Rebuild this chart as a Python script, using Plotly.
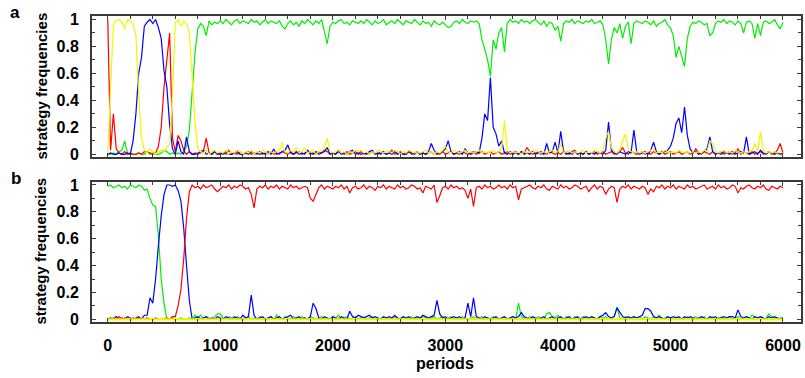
import plotly.graph_objects as go

# sample periods (every 25 periods, 0..6000)
periods = list(range(0, 6001, 25))

# ---------------- panel a ----------------
a_green = [
    0, 0, 0.01, 0, 0.02, 0.03, 0.1, 0.01, 0, 0,
    0, 0.01, 0, 0, 0.02, 0, 0.01, 0, 0, 0.01,
    0.03, 0.02, 0, 0.01, 0, 0.01, 0, 0.02, 0.06, 0.18,
    0.45, 0.75, 0.93, 0.97, 0.95, 0.88, 0.99, 0.96, 0.98, 0.97,
    0.99, 0.97, 1.0, 0.98, 0.96, 0.99, 1.0, 0.97, 0.99, 0.98,
    0.97, 1.0, 0.98, 0.99, 0.96, 0.98, 1.0, 0.97, 0.99, 0.98,
    0.97, 0.99, 0.95, 0.93, 0.97, 0.99, 0.96, 0.98, 0.95, 0.99,
    0.97, 1.0, 0.98, 0.96, 0.99, 0.97, 1.0, 0.92, 0.82, 0.95,
    0.98, 0.97, 0.99, 1.0, 0.97, 0.98, 0.96, 0.99, 0.98, 0.97,
    0.99, 0.97, 1.0, 0.98, 0.96, 0.99, 0.97, 0.98, 1.0, 0.96,
    0.98, 0.99, 0.97, 1.0, 0.98, 0.96, 0.99, 0.98, 0.97, 1.0,
    0.98, 0.96, 0.99, 0.97, 0.98, 0.95, 0.99, 0.97, 0.96, 0.98,
    0.96, 0.94, 0.95, 0.98, 0.99, 0.97, 1.0, 0.98, 0.97, 0.99,
    0.98, 0.99, 0.97, 0.85, 0.78, 0.7, 0.58, 0.85, 0.78, 0.9,
    0.94, 0.76, 0.97, 1.0, 0.98, 0.99, 0.97, 1.0, 0.98, 0.99,
    0.97, 0.99, 1.0, 0.98, 0.96, 0.99, 0.95, 0.98, 0.97, 0.92,
    0.95, 0.84, 0.97, 0.99, 0.98, 1.0, 0.97, 0.99, 0.98, 0.97,
    0.99, 0.98, 1.0, 0.97, 0.98, 0.99, 0.96, 0.85, 0.67, 0.85,
    0.94, 0.9, 0.97, 0.86, 0.95, 0.98, 0.82, 0.97, 0.99, 0.98,
    0.97, 0.99, 0.98, 0.96, 0.99, 0.95, 0.97, 0.98, 1.0, 0.96,
    0.94, 0.88, 0.72, 0.8, 0.72, 0.65, 0.86, 0.95, 0.98, 0.97,
    0.99, 0.98, 0.96, 0.97, 0.88, 0.9, 0.97, 0.99, 0.98, 1.0,
    0.97, 0.99, 0.98, 0.96, 0.99, 0.97, 0.9, 0.98, 0.99, 0.97,
    0.86, 0.97, 0.88, 0.98, 0.99, 0.97, 0.98, 1.0, 0.96, 0.93,
    0.98,
]

a_blue = [
    0, 0.01, 0, 0, 0.01, 0, 0, 0.01, 0, 0.1,
    0.3, 0.6, 0.72, 0.95, 0.98, 1.0, 0.97, 1.0, 0.94, 0.86,
    0.62, 0.5, 0.22, 0.04, 0.0, 0.1, 0.02, 0.0, 0.13, 0.02,
    0, 0, 0.01, 0.02, 0.03, 0, 0.01, 0, 0.02, 0,
    0.01, 0, 0.02, 0, 0, 0.01, 0.02, 0, 0, 0.01,
    0, 0.02, 0, 0.01, 0, 0.01, 0, 0.02, 0, 0.04,
    0, 0.01, 0.02, 0.03, 0.07, 0.01, 0, 0.02, 0, 0.01,
    0, 0.03, 0.01, 0, 0.02, 0, 0.01, 0.02, 0.05, 0,
    0.01, 0, 0.02, 0, 0.01, 0, 0.02, 0.03, 0, 0.01,
    0, 0.01, 0, 0.02, 0.03, 0, 0.01, 0, 0.02, 0,
    0.01, 0, 0.02, 0, 0.01, 0, 0, 0.02, 0.01, 0,
    0.02, 0, 0.01, 0, 0.02, 0.08, 0.03, 0, 0.01, 0.02,
    0.04, 0.1, 0.02, 0, 0.01, 0.02, 0, 0.04, 0.01, 0,
    0.01, 0.02, 0.01, 0.12, 0.3, 0.25, 0.57, 0.2, 0.15, 0.06,
    0.1, 0.01, 0, 0.02, 0, 0.01, 0, 0.02, 0, 0.01,
    0, 0.02, 0, 0.01, 0.02, 0, 0.08, 0.01, 0.02, 0.09,
    0.01, 0.17, 0.02, 0, 0.01, 0, 0.02, 0, 0.01, 0,
    0.02, 0, 0.01, 0, 0.02, 0.01, 0, 0.03, 0.24, 0.03,
    0.01, 0, 0.02, 0.01, 0, 0.02, 0.01, 0.18, 0.02, 0,
    0.01, 0.02, 0, 0.03, 0.09, 0.02, 0, 0.01, 0.02, 0.03,
    0.06, 0.12, 0.23, 0.27, 0.16, 0.35, 0.14, 0.04, 0.01, 0.02,
    0, 0.01, 0.02, 0.04, 0.13, 0.02, 0, 0.01, 0, 0.02,
    0.01, 0, 0.02, 0, 0.01, 0.02, 0.01, 0.13, 0, 0.01,
    0.02, 0, 0.03, 0.01, 0, 0.02, 0.01, 0, 0.01, 0,
    0.01,
]

a_red = [
    1.0, 0.03, 0.3, 0.04, 0.01, 0, 0.02, 0, 0.01, 0,
    0, 0.01, 0, 0.02, 0.02, 0.01, 0, 0.01, 0.06, 0.2,
    0.5, 0.7, 0.9, 0.12, 0.02, 0.14, 0.1, 0.03, 0, 0.02,
    0, 0.01, 0, 0.01, 0.02, 0.12, 0.01, 0, 0.02, 0,
    0, 0.01, 0, 0.03, 0, 0.01, 0, 0.02, 0, 0.01,
    0.02, 0, 0.01, 0, 0.02, 0, 0.01, 0, 0.02, 0,
    0.01, 0, 0.02, 0.01, 0, 0.02, 0, 0.01, 0.02, 0,
    0.01, 0.02, 0, 0.01, 0, 0.02, 0.01, 0.03, 0.02, 0,
    0.01, 0, 0.03, 0.01, 0, 0.02, 0, 0.01, 0.02, 0,
    0.02, 0, 0.01, 0, 0.02, 0.01, 0, 0.02, 0.01, 0,
    0.01, 0.03, 0, 0.01, 0.02, 0, 0.01, 0.02, 0, 0.01,
    0.02, 0, 0.01, 0, 0.01, 0.02, 0, 0.01, 0, 0.02,
    0, 0.01, 0.02, 0, 0.01, 0, 0.02, 0.01, 0, 0.01,
    0.02, 0, 0.01, 0.02, 0, 0.01, 0.02, 0, 0.01, 0.02,
    0, 0.01, 0.02, 0, 0.01, 0.02, 0, 0.02, 0.01, 0.05,
    0.02, 0, 0.01, 0.02, 0, 0.01, 0, 0.02, 0.01, 0,
    0.01, 0, 0.02, 0.01, 0, 0.02, 0.03, 0, 0.01, 0,
    0.02, 0, 0.01, 0.02, 0, 0.01, 0.02, 0, 0.01, 0.02,
    0, 0.01, 0.02, 0.05, 0.01, 0, 0.02, 0.01, 0, 0.01,
    0.02, 0, 0.01, 0, 0.02, 0.01, 0, 0.02, 0, 0.01,
    0.02, 0, 0.01, 0.02, 0, 0.01, 0.02, 0, 0.01, 0.04,
    0.01, 0, 0.02, 0.01, 0, 0.02, 0, 0.01, 0.02, 0,
    0.01, 0.02, 0, 0.01, 0.04, 0, 0.02, 0.01, 0, 0.02,
    0, 0.01, 0.02, 0, 0.01, 0.02, 0, 0.01, 0.03, 0.08,
    0.01,
]

a_yellow = [
    0, 0.5, 0.97, 0.99, 1.0, 0.98, 0.93, 1.0, 0.99, 0.97,
    0.88, 0.45, 0.12, 0.03, 0.01, 0.04, 0.02, 0, 0.02, 0.03,
    0.02, 0.05, 0.08, 0.45, 0.97, 1.0, 0.95, 0.99, 0.97, 0.9,
    0.55, 0.25, 0.04, 0.02, 0.01, 0.03, 0, 0.02, 0.03, 0.01,
    0.02, 0.01, 0.03, 0, 0.02, 0.01, 0.03, 0.02, 0, 0.02,
    0.01, 0.03, 0, 0.02, 0.01, 0.03, 0.02, 0, 0.02, 0.01,
    0.02, 0.03, 0.09, 0.02, 0.01, 0.03, 0.02, 0.05, 0.01, 0.02,
    0.05, 0.01, 0.02, 0.03, 0, 0.02, 0.03, 0.05, 0.12, 0.02,
    0.01, 0.02, 0.03, 0.01, 0.02, 0, 0.02, 0.01, 0.03, 0.02,
    0.03, 0.01, 0.02, 0, 0.02, 0.01, 0.03, 0.02, 0.01, 0.02,
    0.02, 0.01, 0.03, 0.02, 0, 0.02, 0.01, 0.03, 0.02, 0.01,
    0.02, 0.01, 0.02, 0.03, 0.01, 0.02, 0, 0.02, 0.01, 0.03,
    0.06, 0.02, 0.01, 0.03, 0.02, 0.01, 0.02, 0.03, 0.01, 0.02,
    0.01, 0.02, 0.03, 0.01, 0.02, 0.01, 0.02, 0.03, 0.01, 0.02,
    0.04, 0.25, 0.03, 0.01, 0.02, 0.01, 0.02, 0, 0.02, 0.01,
    0.02, 0.01, 0.03, 0.02, 0.01, 0.02, 0.01, 0.02, 0.03, 0.01,
    0.02, 0.08, 0.01, 0.02, 0.03, 0.01, 0.02, 0.01, 0.02, 0.03,
    0.01, 0.02, 0.01, 0.03, 0.02, 0.01, 0.03, 0.12, 0.17, 0.05,
    0.02, 0.01, 0.03, 0.1, 0.15, 0.04, 0.02, 0.01, 0.02, 0.01,
    0.02, 0.01, 0.02, 0.03, 0.04, 0.01, 0.02, 0.01, 0.03, 0.02,
    0.01, 0.02, 0.01, 0.03, 0.02, 0.01, 0.02, 0.01, 0.02, 0.01,
    0.02, 0.01, 0.03, 0.02, 0.1, 0.08, 0.02, 0.01, 0.02, 0.03,
    0.01, 0.02, 0.01, 0.03, 0.02, 0.01, 0.02, 0.01, 0.02, 0.03,
    0.08, 0.02, 0.17, 0.03, 0.01, 0.02, 0.01, 0.02, 0.01, 0.02,
    0.01,
]

# ---------------- panel b ----------------
b_green = [
    0.99, 1.0, 0.98, 0.99, 1.0, 0.98, 0.99, 0.97, 1.0, 0.99,
    0.98, 1.0, 0.99, 0.96, 0.97, 0.9, 0.85, 0.84, 0.62, 0.3,
    0.12, 0.0, 0, 0.01, 0, 0, 0.01, 0, 0, 0.01,
    0, 0.03, 0.01, 0.03, 0, 0.02, 0.01, 0, 0.02, 0.04,
    0.04, 0.01, 0, 0.02, 0.01, 0, 0.02, 0.01, 0, 0.01,
    0.02, 0, 0.01, 0, 0.02, 0.01, 0, 0.01, 0.02, 0,
    0.03, 0.01, 0, 0.02, 0.01, 0, 0.02, 0.01, 0, 0.02,
    0.01, 0, 0.02, 0.01, 0, 0.01, 0.02, 0, 0.01, 0,
    0.02, 0.01, 0.03, 0, 0.01, 0.02, 0, 0.01, 0.02, 0,
    0.01, 0.02, 0, 0.01, 0.02, 0, 0.01, 0, 0.02, 0.01,
    0, 0.01, 0.02, 0, 0.01, 0.02, 0, 0.01, 0.02, 0,
    0.01, 0, 0.02, 0.01, 0, 0.01, 0.02, 0, 0.01, 0.02,
    0, 0.01, 0.02, 0, 0.01, 0, 0.02, 0.01, 0, 0.01,
    0.02, 0, 0.01, 0.02, 0, 0.01, 0, 0.02, 0.01, 0,
    0.01, 0.02, 0, 0.01, 0.02, 0, 0.12, 0.02, 0.01, 0,
    0.02, 0.01, 0, 0.02, 0.01, 0, 0.04, 0.05, 0.02, 0.01,
    0.03, 0.01, 0, 0.02, 0.01, 0, 0.02, 0.01, 0, 0.02,
    0.01, 0, 0.02, 0.01, 0, 0.02, 0.01, 0.02, 0, 0.01,
    0.02, 0.09, 0.01, 0, 0.02, 0.01, 0, 0.02, 0.01, 0.02,
    0, 0.02, 0.01, 0, 0.02, 0.01, 0.03, 0, 0.01, 0.02,
    0.01, 0, 0.02, 0.01, 0, 0.01, 0.02, 0, 0.01, 0.02,
    0, 0.01, 0.02, 0, 0.01, 0.02, 0, 0.01, 0.02, 0,
    0.01, 0.02, 0, 0.01, 0.02, 0, 0.01, 0.02, 0.01, 0.03,
    0.02, 0.01, 0.02, 0, 0.01, 0.04, 0.02, 0.01, 0, 0.01,
    0.01,
]

b_blue = [
    0, 0.01, 0, 0.02, 0, 0.01, 0, 0.02, 0.01, 0,
    0.01, 0.02, 0, 0.03, 0.03, 0.16, 0.12, 0.3, 0.55, 0.77,
    0.93, 1.0, 1.0, 0.99, 1.0, 0.96, 0.88, 0.68, 0.4, 0.14,
    0, 0.01, 0.02, 0, 0.01, 0.02, 0, 0.01, 0, 0.02,
    0.01, 0, 0.02, 0.01, 0, 0.02, 0.01, 0, 0.03, 0.01,
    0.02, 0.18, 0.03, 0, 0.01, 0.02, 0, 0.01, 0.02, 0,
    0.01, 0.02, 0, 0.01, 0.02, 0.03, 0, 0.01, 0.02, 0,
    0.01, 0, 0.02, 0.12, 0.08, 0.01, 0, 0.02, 0.01, 0,
    0.02, 0.01, 0, 0.02, 0.01, 0, 0.06, 0.02, 0.01, 0.03,
    0.02, 0.01, 0.02, 0.03, 0.01, 0.02, 0.01, 0, 0.02, 0.01,
    0.02, 0.01, 0.03, 0.01, 0, 0.02, 0.01, 0.02, 0, 0.01,
    0.02, 0.01, 0.03, 0.02, 0.01, 0.02, 0.03, 0.14, 0.04, 0.01,
    0.02, 0, 0.01, 0.02, 0.01, 0.02, 0, 0.01, 0.12, 0.02,
    0.16, 0.02, 0.01, 0, 0.02, 0.01, 0, 0.01, 0.02, 0,
    0.01, 0.02, 0, 0.01, 0.02, 0.01, 0.02, 0.05, 0.02, 0.01,
    0, 0.02, 0.01, 0, 0.01, 0.02, 0, 0.01, 0.02, 0,
    0.01, 0.02, 0, 0.01, 0.02, 0, 0.01, 0.02, 0, 0.01,
    0.02, 0.01, 0.02, 0.01, 0, 0.02, 0.03, 0.05, 0.02, 0.01,
    0.02, 0.085, 0.05, 0.02, 0.01, 0.02, 0.01, 0.02, 0.01, 0.02,
    0.03, 0.08, 0.08, 0.06, 0.02, 0.01, 0.02, 0.01, 0, 0.02,
    0.01, 0.02, 0.01, 0.02, 0, 0.02, 0.01, 0.02, 0.01, 0,
    0.01, 0.02, 0.01, 0, 0.02, 0.01, 0.02, 0, 0.01, 0.02,
    0.01, 0.02, 0.02, 0.01, 0.07, 0.02, 0.01, 0.02, 0.01, 0,
    0.02, 0.01, 0.02, 0.01, 0, 0.02, 0.01, 0.02, 0.01, 0,
    0.01,
]

b_red = [
    0, 0, 0.01, 0, 0.02, 0, 0.01, 0, 0, 0.01,
    0, 0.01, 0, 0, 0.01, 0, 0, 0.01, 0, 0,
    0, 0.01, 0, 0.02, 0.02, 0.1, 0.22, 0.45, 0.75, 0.95,
    1.0, 0.98, 0.99, 0.97, 1.0, 0.98, 0.99, 1.0, 0.97, 0.95,
    0.97, 0.99, 0.98, 1.0, 0.97, 0.99, 0.98, 1.0, 0.99, 0.97,
    0.98, 0.93, 0.83, 0.97, 0.99, 0.98, 1.0, 0.97, 0.99, 0.98,
    1.0, 0.97, 0.99, 0.98, 0.97, 1.0, 0.98, 0.99, 0.97, 0.98,
    0.99, 0.98, 0.9, 0.88, 0.93, 0.98, 1.0, 0.97, 0.99, 0.98,
    0.97, 0.99, 0.98, 1.0, 0.97, 0.99, 0.94, 0.98, 0.99, 0.97,
    0.98, 1.0, 0.97, 0.99, 0.98, 0.96, 0.99, 0.98, 1.0, 0.97,
    0.99, 0.98, 0.97, 1.0, 0.98, 0.99, 0.97, 0.98, 1.0, 0.99,
    0.97, 0.98, 0.94, 0.99, 0.98, 0.97, 1.0, 0.87, 0.92, 0.98,
    0.99, 0.97, 1.0, 0.98, 0.99, 0.97, 0.98, 0.96, 0.9, 0.97,
    0.84, 0.98, 0.99, 0.97, 1.0, 0.98, 0.99, 0.97, 0.98, 1.0,
    0.98, 0.99, 0.97, 1.0, 0.98, 0.99, 0.89, 0.97, 0.98, 0.99,
    1.0, 0.98, 0.97, 0.99, 0.98, 1.0, 0.97, 0.96, 0.99, 0.98,
    0.97, 1.0, 0.98, 0.99, 0.97, 0.98, 1.0, 0.99, 0.97, 0.98,
    0.99, 0.95, 0.98, 1.0, 0.97, 0.99, 0.98, 0.93, 0.97, 0.99,
    0.98, 0.87, 0.97, 0.99, 0.98, 1.0, 0.97, 0.99, 0.98, 0.97,
    0.99, 0.98, 0.93, 0.97, 0.95, 0.99, 0.98, 1.0, 0.97, 0.99,
    0.98, 1.0, 0.97, 0.99, 0.98, 0.97, 1.0, 0.98, 0.99, 0.97,
    0.98, 0.99, 1.0, 0.97, 0.98, 0.99, 0.97, 1.0, 0.98, 0.99,
    0.97, 0.98, 1.0, 0.99, 0.94, 0.98, 0.97, 0.99, 1.0, 0.98,
    0.97, 0.99, 0.98, 1.0, 0.97, 0.96, 0.99, 0.98, 0.97, 0.99,
    0.98,
]

b_yellow_periods = [0, 6000]
b_yellow = [0.0, 0.0]

for s in (a_green, a_blue, a_red, a_yellow, b_green, b_blue, b_red):
    assert len(s) == len(periods), len(s)

# colours
RED, GREEN, BLUE, YELLOW = "#ff0000", "#00ee00", "#0000ff", "#f5f500"

W, H = 805, 378
fig = go.Figure()

def add(x, y, color, ax, width=1.2):
    fig.add_trace(go.Scatter(x=x, y=y, mode="lines", line=dict(color=color, width=width),
                             xaxis="x" if ax == 1 else "x2", yaxis="y" if ax == 1 else "y2",
                             showlegend=False, hoverinfo="skip"))

add(periods, a_green, GREEN, 1)
add(periods, a_red, RED, 1)
add(periods, a_blue, BLUE, 1)
add(periods, a_yellow, YELLOW, 1)

add(periods, b_green, GREEN, 2)
add(periods, b_blue, BLUE, 2)
add(periods, b_red, RED, 2)
add(b_yellow_periods, b_yellow, YELLOW, 2, width=2.2)

FONT = "Liberation Sans, Arial, sans-serif"
tickfont = dict(family=FONT, size=16, color="black", weight="bold")

def xax(domain_anchor, labels):
    return dict(range=[-140, 6160], domain=[92 / W, 801 / W], anchor=domain_anchor,
                automargin=False,
                showline=True, mirror="ticks", linecolor="#3a3a3a", linewidth=2,
                ticks="inside", ticklen=4, tickcolor="#3a3a3a",
                tickvals=[0, 1000, 2000, 3000, 4000, 5000, 6000],
                showticklabels=labels, tickfont=tickfont, ticklabelstandoff=8,
                minor=dict(dtick=200, ticks="inside", ticklen=3, tickcolor="#3a3a3a"),
                showgrid=False, zeroline=False)

def yax(domain, rng, anchor):
    return dict(range=rng, domain=domain, anchor=anchor,
                automargin=False,
                showline=True, mirror="ticks", linecolor="#3a3a3a", linewidth=2,
                ticks="inside", ticklen=4, tickcolor="#3a3a3a",
                tickvals=[0, 0.2, 0.4, 0.6, 0.8, 1.0],
                ticktext=["0", "0.2", "0.4", "0.6", "0.8", "1"],
                tickfont=tickfont, ticklabelstandoff=8,
                minor=dict(dtick=0.1, ticks="inside", ticklen=3, tickcolor="#3a3a3a"),
                showgrid=False, zeroline=False)

fig.update_layout(
    width=W, height=H,
    margin=dict(l=0, r=0, t=0, b=0, autoexpand=False),
    paper_bgcolor="white", plot_bgcolor="white",
    xaxis=xax("y", False),
    yaxis=yax([1 - 157 / H, 1 - 16 / H], [-0.02, 1.026], "x"),
    xaxis2=xax("y2", True),
    yaxis2=yax([1 - 321.7 / H, 1 - 181.5 / H], [-0.018, 1.026], "x2"),
    showlegend=False,
)

def ann(text, x, y, size, angle=0):
    fig.add_annotation(text=text, x=x / W, y=1 - y / H, xref="paper", yref="paper",
                       showarrow=False, textangle=angle, xanchor="center", yanchor="middle",
                       font=dict(family=FONT, size=size, color="black", weight="bold"))

ann("a", 15, 12.5, 17)
ann("b", 16, 179, 17)
ann("strategy frequencies", 41, 86.5, 15, -90)
ann("strategy frequencies", 41, 251.6, 15, -90)
ann("periods", 445, 363, 16)

fig.write_html("out.html",
               config={"displayModeBar": False},
               post_script="document.body.style.margin='0';document.body.style.overflow='hidden';")
